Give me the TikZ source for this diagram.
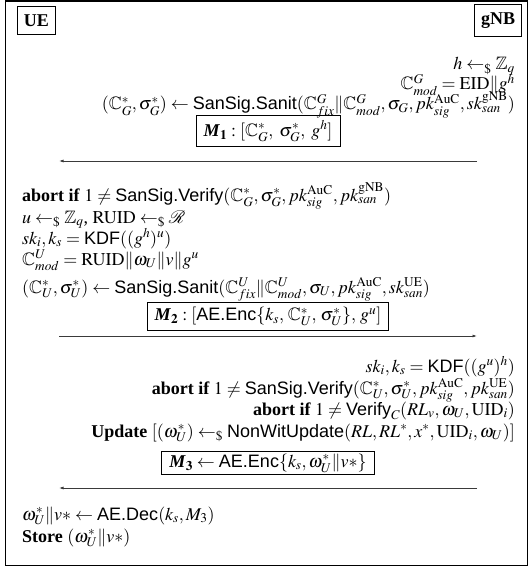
\documentclass[tikz,border=0pt]{standalone}
\usepackage{amsmath, amssymb}
\usepackage{mathptmx}
\usepackage{fontspec}
\setmainfont{Liberation Serif}
\setsansfont{Liberation Sans}
\usepackage{tikz}
\usetikzlibrary{calc,arrows.meta}
\usetikzlibrary{positioning}
\definecolor{pr-line}{HTML}{3A3A3A}

\newcommand{\procname}[1]{\textsf{#1}}
\newcommand{\smpl}{\leftarrow_{\$}}
\newcommand{\msgM}[1]{\textbf{\textit{M}}_{\mathbf{#1}}}

\tikzset{
    party/.style={draw, line width=0.8pt, font=\fontsize{18}{21}\selectfont\bfseries, inner xsep=6.5pt, inner ysep=8pt},
    gnbline/.style={anchor=base east, inner sep=0pt},
    ueline/.style={anchor=base west, inner sep=0pt},
    msgbox/.style={draw, line width=0.8pt, inner xsep=7.5pt, inner ysep=5pt},
    msgarrow/.style={pr-line, line width=0.8pt, -{Latex[length=4.5pt,width=3pt]}}
}

\begin{document}
\begin{tikzpicture}[x=1pt, y=-1pt, font=\fontsize{18}{21}\selectfont]

    \useasboundingbox (0,0) rectangle (530,567);

    % Frame
    \draw[line width=1.2pt] (5.5,1) rectangle (527.5,565.5);

    % Parties
    \node[party, anchor=north west] (ue) at (17,6) {UE};
    \node[party, anchor=north east] (gnb) at (522,4) {gNB};

    % gNB: sanitize and send M1
    \node[gnbline] (g1) at (515,70) {$h \smpl \mathbb{Z}_q$};
    \node[gnbline] (g2) at (515,90) {$\mathbb{C}^{G}_{mod} = \mathrm{EID}\|g^{h}$};
    \node[gnbline] (g3) at (515,110) {$(\mathbb{C}^{*}_{G}, \sigma^{*}_{G}) \leftarrow \procname{SanSig.Sanit}(\mathbb{C}^{G}_{fix}\|\mathbb{C}^{G}_{mod}, \sigma_{G}, pk^{\mathrm{AuC}}_{sig}, sk^{\mathrm{gNB}}_{san})$};
    \node[msgbox] (m1) at (268,131) {$\msgM{1} : [\mathbb{C}^{*}_{G},\; \sigma^{*}_{G},\; g^{h}]$};
    \coordinate (a1r) at (477,161);
    \coordinate (a1l) at (59,161);
    \draw[msgarrow] (a1r) -- (a1l);

    % UE: verify, sanitize and send M2
    \node[ueline] (u1) at (22,201) {\textbf{abort if} $1 \neq \procname{SanSig.Verify}(\mathbb{C}^{*}_{G}, \sigma^{*}_{G}, pk^{\mathrm{AuC}}_{sig}, pk^{\mathrm{gNB}}_{san})$};
    \node[ueline] (u2) at (22,223) {$u \smpl \mathbb{Z}_q$, $\mathrm{RUID} \smpl \mathcal{R}$};
    \node[ueline] (u3) at (22,244) {$sk_i, k_s = \procname{KDF}((g^{h})^{u})$};
    \node[ueline] (u4) at (22,265) {$\mathbb{C}^{U}_{mod} = \mathrm{RUID}\|\omega_U\|v\|g^{u}$};
    \node[ueline] (u5) at (22,293) {$(\mathbb{C}^{*}_{U}, \sigma^{*}_{U}) \leftarrow \procname{SanSig.Sanit}(\mathbb{C}^{U}_{fix}\|\mathbb{C}^{U}_{mod}, \sigma_{U}, pk^{\mathrm{AuC}}_{sig}, sk^{\mathrm{UE}}_{san})$};
    \node[msgbox] (m2) at (268,316.5) {$\msgM{2} : [\procname{AE.Enc}\{k_s,\, \mathbb{C}^{*}_{U},\, \sigma^{*}_{U}\},\, g^{u}]$};
    \coordinate (a2l) at (59,336);
    \coordinate (a2r) at (477,336);
    \draw[msgarrow] (a2l) -- (a2r);

    % gNB: verify, update and send M3
    \node[gnbline] (g4) at (515,372) {$sk_i, k_s = \procname{KDF}((g^{u})^{h})$};
    \node[gnbline] (g5) at (515,394) {\textbf{abort if} $1 \neq \procname{SanSig.Verify}(\mathbb{C}^{*}_{U}, \sigma^{*}_{U}, pk^{\mathrm{AuC}}_{sig}, pk^{\mathrm{UE}}_{san})$};
    \node[gnbline] (g6) at (515,415) {\textbf{abort if} $1 \neq \procname{Verify}_{C}(RL_v, \omega_U, \mathrm{UID}_i)$};
    \node[gnbline] (g7) at (515,437) {\textbf{Update} $[(\omega^{*}_{U}) \smpl \procname{NonWitUpdate}(RL, RL^{*}, x^{*}, \mathrm{UID}_i, \omega_U)]$};
    \node[msgbox, inner ysep=2pt] (m3) at (268,463) {$\msgM{3} \leftarrow \procname{AE.Enc}\{k_s, \omega^{*}_{U}\|v{*}\}$};
    \coordinate (a3r) at (477,488);
    \coordinate (a3l) at (59,488);
    \draw[msgarrow] (a3r) -- (a3l);

    % UE: decrypt and store
    \node[ueline] (u6) at (22,520) {$\omega^{*}_{U}\|v{*} \leftarrow \procname{AE.Dec}(k_s, M_3)$};
    \node[ueline] (u7) at (22,542) {\textbf{Store} $(\omega^{*}_{U}\|v{*})$};

\end{tikzpicture}
\end{document}
